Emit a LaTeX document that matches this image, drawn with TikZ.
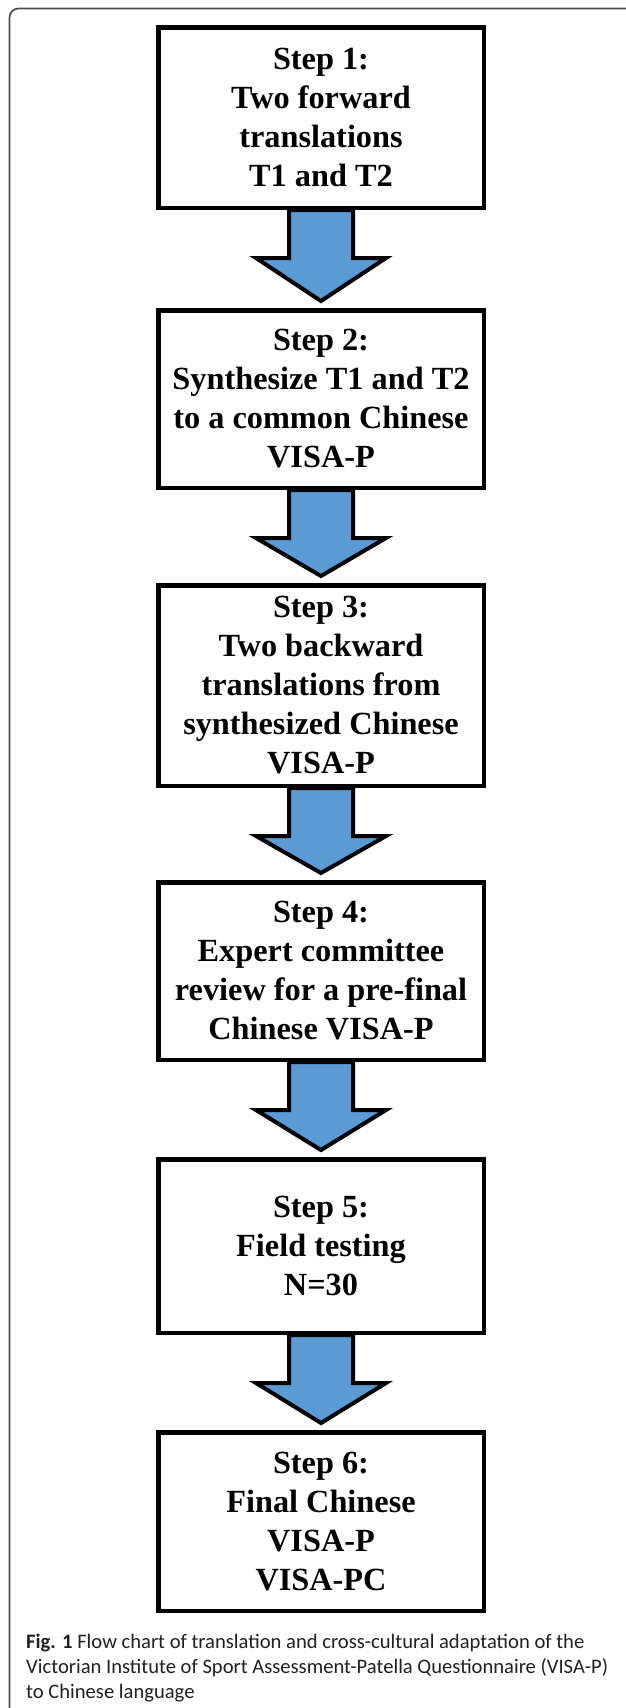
\documentclass[tikz,border=0pt]{standalone}
\usepackage{fontspec}
\setmainfont{Liberation Serif}
\newfontfamily\capfont{Carlito}
\usetikzlibrary{calc}
\definecolor{arrowblue}{HTML}{5B9BD5}
\definecolor{captext}{HTML}{231F20}
\definecolor{framegray}{HTML}{4A4A4A}
\pgfdeclarelayer{bg}
\pgfsetlayers{bg,main}
\newcommand\blockarr[2]{%
  \begin{pgfonlayer}{bg}
  \path let \p1=(#1.south), \p2=(#2.north) in
    [fill=arrowblue, draw=black, line width=4pt, line join=miter]
    (\x1-32pt,\y1) -- (\x1-32pt,\y1-48pt) -- (\x1-65pt,\y1-48pt)
    -- (\x1,\y2+7pt) -- (\x1+65pt,\y1-48pt) -- (\x1+32pt,\y1-48pt)
    -- (\x1+32pt,\y1) -- cycle;
  \end{pgfonlayer}}
\begin{document}
\begin{tikzpicture}[x=1pt,y=-1pt,
  stepbox/.style={draw=black, line width=4.5pt, rectangle, minimum width=325.5pt,
    inner sep=0pt, align=center,
    font=\fontsize{32.3}{39}\selectfont\bfseries},
  captiontext/.style={anchor=base west, inner sep=0pt, align=left, text=captext,
    font=\capfont\fontsize{20.6}{25}\selectfont}]
\useasboundingbox (0,0) rectangle (625,1708);
\draw[framegray, line width=1.6pt, rounded corners=9pt] (9.5,1710) -- (9.5,8.5) -- (626,8.5);

\node[stepbox, minimum height=180.5pt] (b1) at (321,117.5)
  {Step 1:\\Two forward\\translations\\T1 and T2};
\node[stepbox, minimum height=177.5pt] (b2) at (321,399)
  {Step 2:\\Synthesize T1 and T2\\to a common Chinese\\VISA-P};
\node[stepbox, minimum height=200.5pt] (b3) at (321,685.5)
  {Step 3:\\Two backward\\translations from\\synthesized Chinese\\VISA-P};
\node[stepbox, minimum height=177.5pt] (b4) at (321,971)
  {Step 4:\\Expert committee\\review for a pre-final\\Chinese VISA-P};
\node[stepbox, minimum height=173.5pt] (b5) at (321,1246)
  {Step 5:\\Field testing\\N=30};
\node[stepbox, minimum height=178.5pt] (b6) at (321,1521.5)
  {Step 6:\\Final Chinese\\VISA-P\\VISA-PC};

\blockarr{b1}{b2}
\blockarr{b2}{b3}
\blockarr{b3}{b4}
\blockarr{b4}{b5}
\blockarr{b5}{b6}

\node[captiontext] (cap) at (26,1698)
  {{\bfseries Fig. 1} Flow chart of translation and cross-cultural adaptation of the\\
   Victorian Institute of Sport Assessment-Patella Questionnaire (VISA-P)\\
   to Chinese language};
\end{tikzpicture}
\end{document}
